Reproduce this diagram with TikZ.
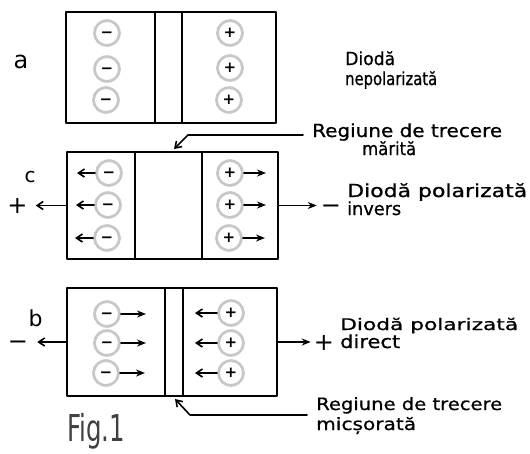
\documentclass[tikz,border=0pt]{standalone}
\usepackage{fontspec}
\setmainfont{DejaVu Sans}
\newfontfamily\hand[FakeBold=0.8]{DejaVu Sans}
\newfontfamily\figfont[FakeStretch=0.66]{DejaVu Sans}
\usepackage{graphicx}
\usetikzlibrary{arrows.meta}
\newcommand\hw[2]{\resizebox{#1}{\height}{#2}}
\newcommand\mns{\vphantom{+}−}
\begin{document}
\begin{tikzpicture}[x=1pt,y=-1pt,line cap=round,line join=round,
  diodebox/.style={draw,line width=1.4pt,rectangle,inner sep=0pt},
  boxline/.style={line width=1.4pt},
  charge/.style={circle,minimum size=25pt,inner sep=0pt,draw=black!22,line width=3pt,
     dash pattern=on 0.35pt off 0.9pt,font=\fontsize{15}{15}\selectfont\bfseries},
  lbl/.style={anchor=base west,inner sep=0pt,font=\hand\fontsize{18}{20}\selectfont},
  sign/.style={inner sep=0pt,font=\fontsize{24}{24}\selectfont},
  letter/.style={inner sep=0pt},
  barb/.style={line width=1.6pt,-{Straight Barb[length=6pt,width=8pt]}},
  stl/.style={line width=1.6pt,-{Stealth[length=9pt,width=7pt]}}
]
\fill[white] (0,0) rectangle (530,453);
\useasboundingbox (0,0) rectangle (530,453);

% ---------- a : unbiased ----------
\node[diodebox,minimum width=210pt,minimum height=111pt] (A) at (171,67.5) {};
\draw[boxline] (155,12) -- (155,123);
\draw[boxline] (182,12) -- (182,123);
\node[charge] (al1) at (107,33) {\mns};
\node[charge] (al2) at (107,69) {\mns};
\node[charge] (al3) at (106,100) {\mns};
\node[charge] (ar1) at (230,33) {+};
\node[charge] (ar2) at (230,68) {+};
\node[charge] (ar3) at (229,100) {+};
\node[letter,font=\fontsize{24}{24}\selectfont] (la) at (21,62) {a};
\node[lbl] (ta1) at (345,65) {\hw{50pt}{Diodă}};
\node[lbl] (ta2) at (345,85) {\hw{92pt}{nepolarizată}};

% ---------- c : reverse biased ----------
\node[diodebox,minimum width=211pt,minimum height=107pt] (C) at (172.5,205.5) {};
\draw[boxline] (135,152) -- (135,259);
\draw[boxline] (202,152) -- (202,259);
\node[charge] (cl1) at (109,173) {\mns};
\node[charge] (cl2) at (108,205) {\mns};
\node[charge] (cl3) at (107,238) {\mns};
\node[charge] (cr1) at (230,173) {+};
\node[charge] (cr2) at (230,205) {+};
\node[charge] (cr3) at (229,238) {+};
\draw[barb] (cl1.west) -- ++(-18,0);
\draw[barb] (cl2.west) -- ++(-18,0);
\draw[barb] (cl3.west) -- ++(-18,0);
\draw[stl] (cr1.east) -- ++(22,0);
\draw[stl] (cr2.east) -- ++(22,0);
\draw[stl] (cr3.east) -- ++(22,0);
\node[letter,font=\fontsize{20}{20}\selectfont] (lc) at (30,177.5) {c};
\node[sign] (cp) at (17.5,206) {+};
\node[sign] (cm) at (331,206) {\mns};
\draw[barb] (C.west) -- ([xshift=8pt]C.west -| cp.east);
\draw[stl] (C.east) -- ([xshift=-4pt]C.east -| cm.west);
\node[lbl] (rc1) at (312,137) {\hw{190pt}{Regiune de trecere}};
\node[lbl] (rc2) at (362,155) {\hw{54pt}{mărită}};
\node[lbl] (tc1) at (347,197) {\hw{180pt}{Diodă polarizată}};
\node[lbl] (tc2) at (347,215) {\hw{54pt}{invers}};
\coordinate (lc0) at (303,135);
\coordinate (lc1) at (174,149);
\draw[barb] (lc0) -- (188,135) -- (lc1);

% ---------- b : forward biased ----------
\node[diodebox,minimum width=210pt,minimum height=108pt] (B) at (172,342) {};
\draw[boxline] (165,288) -- (165,396);
\draw[boxline] (183,288) -- (183,396);
\node[charge] (bl1) at (107,314) {\mns};
\node[charge] (bl2) at (107,343) {\mns};
\node[charge] (bl3) at (106,373) {\mns};
\node[charge] (br1) at (231,313) {+};
\node[charge] (br2) at (231,343) {+};
\node[charge] (br3) at (231,373) {+};
\draw[stl] (bl1.east) -- ++(25,0);
\draw[stl] (bl2.east) -- ++(25,0);
\draw[stl] (bl3.east) -- ++(25,0);
\draw[barb] (br1.west) -- ++(-22,0);
\draw[barb] (br2.west) -- ++(-22,0);
\draw[barb] (br3.west) -- ++(-22,0);
\node[letter,font=\fontsize{22}{22}\selectfont] (lb) at (35.5,318.5) {b};
\node[sign] (bm) at (18,342) {\mns};
\node[sign] (bp) at (324,343) {+};
\draw[barb] (B.west) -- ([xshift=9pt]B.west -| bm.east);
\draw[stl] (B.east) -- ([xshift=-3pt]B.east -| bp.west);
\node[lbl,font=\hand\fontsize{16}{18}\selectfont] (tb1) at (340,330) {\hw{178pt}{Diodă polarizată}};
\node[lbl] (tb2) at (340,348) {\hw{60pt}{direct}};
\node[lbl,font=\hand\fontsize{17}{19}\selectfont] (rb1) at (316,410) {\hw{186pt}{Regiune de trecere}};
\node[lbl,font=\hand\fontsize{17}{19}\selectfont] (rb2) at (316,430) {\hw{100pt}{micșorată}};
\coordinate (lb0) at (307,415);
\coordinate (lb1) at (175,399);
\draw[barb] (lb0) -- (190,415) -- (lb1);

\node[anchor=base west,inner sep=0pt,text=black!75,font=\figfont\fontsize{37}{37}\selectfont] (fig) at (67,441) {Fig.1};
\end{tikzpicture}
\end{document}
